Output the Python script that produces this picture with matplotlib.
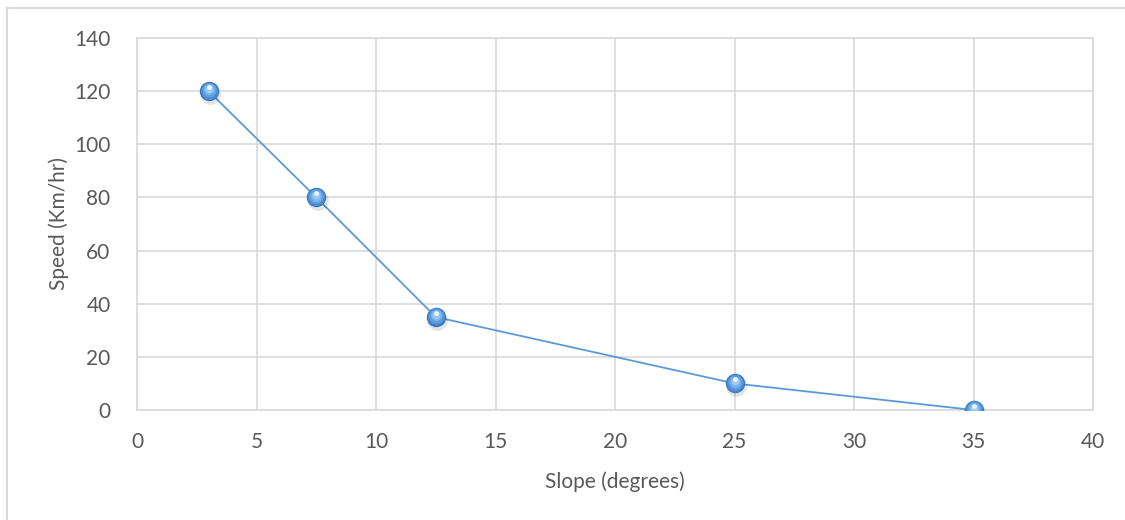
import matplotlib.pyplot as plt
from matplotlib.lines import Line2D

slope_deg = [3, 7.5, 12.5, 25, 35]
speed_kmh = [120, 80, 35, 10, 0]
x_ticks = [0, 5, 10, 15, 20, 25, 30, 35, 40]
y_ticks = [0, 20, 40, 60, 80, 100, 120, 140]

plt.rcParams['font.family'] = ['Lato', 'DejaVu Sans']
text_col = '#595959'
grid_col = '#D9D9D9'
line_col = '#5B9BD5'

fig = plt.figure(figsize=(11.25, 5.2), dpi=100)
ax = fig.add_axes([137 / 1125, 1 - 410 / 520, (1093 - 137) / 1125, (410 - 38) / 520])

# outer chart border (top and left only visible)
fig.add_artist(Line2D([7 / 1125, 1], [1 - 8 / 520, 1 - 8 / 520], transform=fig.transFigure,
                      color='#D9D9D9', lw=1.5))
fig.add_artist(Line2D([7 / 1125, 7 / 1125], [0, 1 - 8 / 520], transform=fig.transFigure,
                      color='#D9D9D9', lw=1.5))

px_x = 40 / 956
px_y = 140 / 372

ax.plot(slope_deg, speed_kmh, color=line_col, lw=1.3, zorder=3)
# soft shadow under the spheres
ax.plot([x + 1.5 * px_x for x in slope_deg], [y - 3 * px_y for y in speed_kmh], 'o', ms=15,
        color='#000000', alpha=0.10, mec='none', zorder=3.5)
# sphere-like markers built from stacked circles
layers = [(14, '#3A78BC', 0), (12.5, '#4B8BD0', 0.6), (10.5, '#5E9FE0', 1.2),
          (8, '#7AB5EC', 1.8), (5.5, '#9ECBF5', 2.4)]
for i, (ms, c, dy) in enumerate(layers):
    ax.plot(slope_deg, [y + dy * px_y for y in speed_kmh], 'o', ms=ms, mfc=c, mec='none',
            zorder=4 + i * 0.1)
ax.plot(slope_deg, [y + 4 * px_y for y in speed_kmh], 'o', ms=3.5,
        mfc='white', mec='none', alpha=0.8, zorder=5)

ax.set_xlim(0, 40)
ax.set_ylim(0, 140)
ax.set_xticks(x_ticks)
ax.set_yticks(y_ticks)
ax.grid(True, color=grid_col, lw=1.2)
ax.set_axisbelow(True)
for s in ax.spines.values():
    s.set_color(grid_col)
    s.set_linewidth(1.2)
ax.tick_params(length=0, labelsize=15, colors=text_col)
ax.tick_params(axis='x', pad=16)
ax.tick_params(axis='y', pad=19)
ax.set_xlabel('Slope (degrees)', fontsize=15, color=text_col, labelpad=14)
ax.set_ylabel('Speed (Km/hr)', fontsize=15, color=text_col, labelpad=4)

fig.savefig('out.png', dpi=100)
